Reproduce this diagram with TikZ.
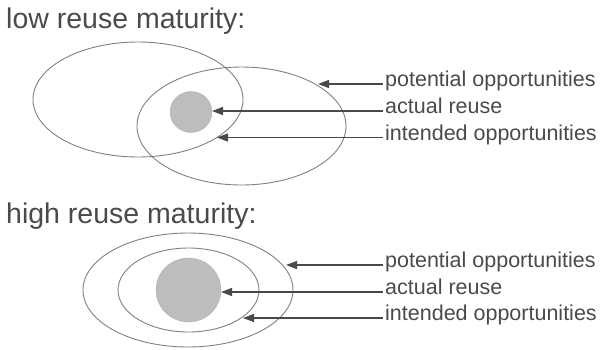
\documentclass[tikz,border=0pt]{standalone}
\usepackage{fontspec}
\setmainfont{Liberation Sans}
\usetikzlibrary{arrows.meta,shapes.geometric}
\definecolor{ink}{HTML}{4A4A4A}
\definecolor{ring}{HTML}{808080}
\definecolor{dots}{HTML}{BDBDBD}
\tikzset{
  title/.style={anchor=base west,inner sep=0pt,text=ink,font=\fontsize{28.5}{30}\selectfont},
  lab/.style={anchor=mid west,inner sep=0pt,text=ink,font=\fontsize{21.5}{24}\selectfont},
  oval/.style={ellipse,draw=ring,line width=0.9pt,inner sep=0pt},
  blob/.style={ellipse,fill=dots,draw=dots!90!black,line width=0.3pt,inner sep=0pt},
  arr/.style={draw=ink,line width=1.3pt,-{Triangle[length=11pt,width=8pt]}}
}
\begin{document}
\begin{tikzpicture}[x=1pt,y=-1pt]
\useasboundingbox (0,0) rectangle (603,349);
% ---------- low reuse maturity ----------
\node[title] (t1) at (6,28) {low reuse maturity:};
\node[oval,minimum width=210pt,minimum height=115pt] (potL) at (138,99.5) {};
\node[oval,minimum width=209pt,minimum height=118pt] (intL) at (241.5,126) {};
\node[blob,minimum width=42pt,minimum height=41pt] (actL) at (191,112) {};
\node[lab] (pL) at (385,84) {potential opportunities};
\node[lab] (aL) at (385,111) {actual reuse};
\node[lab] (iL) at (385,137.5) {intended opportunities};
\coordinate (pLt) at (318,84);
\coordinate (aLt) at (212,111);
\coordinate (iLt) at (217,137.5);
\draw[arr] ([xshift=-2pt]pL.mid west) -- (pLt);
\draw[arr] ([xshift=-2pt]aL.mid west) -- (aLt);
\draw[arr] ([xshift=-2pt]iL.mid west) -- (iLt);
% ---------- high reuse maturity ----------
\node[title] (t2) at (6,223) {high reuse maturity:};
\node[oval,minimum width=210pt,minimum height=114pt] (potH) at (188,290) {};
\node[oval,minimum width=141pt,minimum height=84pt] (intH) at (188.5,290) {};
\node[blob,minimum width=65pt,minimum height=64pt] (actH) at (188.5,290) {};
\node[lab] (pH) at (385,265) {potential opportunities};
\node[lab] (aH) at (385,292) {actual reuse};
\node[lab] (iH) at (385,318) {intended opportunities};
\coordinate (pHt) at (286,265);
\coordinate (aHt) at (221,292);
\coordinate (iHt) at (243,318);
\draw[arr] ([xshift=-2pt]pH.mid west) -- (pHt);
\draw[arr] ([xshift=-2pt]aH.mid west) -- (aHt);
\draw[arr] ([xshift=-2pt]iH.mid west) -- (iHt);
\end{tikzpicture}
\end{document}
